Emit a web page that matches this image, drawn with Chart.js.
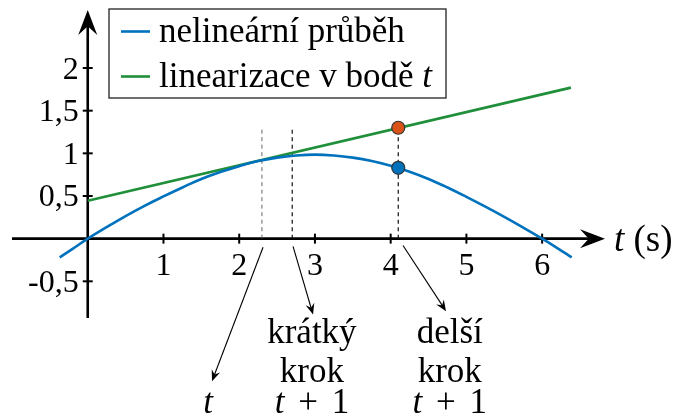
<!DOCTYPE html>
<html><head><meta charset="utf-8">
<script src="https://cdn.jsdelivr.net/npm/chart.js@4/dist/chart.umd.min.js"></script>
<style>html,body{margin:0;padding:0;background:#fff}#wrap{width:677px;height:416px}</style>
</head><body><div id="wrap"><canvas id="c" width="677" height="416"></canvas></div>
<script>
// ---- data ----
const seriesNames = ['nelineární průběh', 'linearizace v bodě '];
const curveT = [-0.37, -0.2, 0, 0.25, 0.5, 0.75, 1, 1.25, 1.5, 1.75, 2, 2.25, 2.5, 2.75, 3, 3.25, 3.5, 3.75, 4, 4.25, 4.5, 4.75, 5, 5.25, 5.5, 5.75, 6, 6.2, 6.39];
const curveY = [-0.22, -0.12, 0, 0.135, 0.265, 0.385, 0.495, 0.60, 0.70, 0.78, 0.85, 0.91, 0.95, 0.975, 0.985, 0.975, 0.95, 0.91, 0.855, 0.785, 0.70, 0.60, 0.49, 0.375, 0.255, 0.13, 0, -0.11, -0.22];
const lineT = [0, 6.38];
const lineY = [0.445, 1.77];
const markT = 4.1;
const markCurveY = 0.83;
const markLineY = 1.30;
const stepT = [2.3, 2.7, 4.1];
const stepTop = [1.31, 1.31, 1.30];
const xTicks = [1, 2, 3, 4, 5, 6];
const xTickLabels = ['1', '2', '3', '4', '5', '6'];
const yTicks = [-0.5, 0.5, 1, 1.5, 2];
const yTickLabels = ['-0,5', '0,5', '1', '1,5', '2'];
// annotation arrows (data units): [fromT, fromY, toT, toY]
const arrowFrom = [[2.315, -0.10], [2.711, -0.09], [4.163, -0.08]];
const arrowTo = [[1.641, -1.67], [2.975, -0.89], [4.731, -0.85]];
// annotation texts
const noteLines = [['', '', 't'], ['krátký', 'krok', 't + 1'], ['delší', 'krok', 't + 1']];
const noteT = [1.59, 2.96, 4.78];
const noteBaseY = [-1.22, -1.68, -2.04];

const BLUE = '#0072BD', GREEN = '#1f8f3a', ORANGE = '#D95319';
const FONT = '"Liberation Serif", "Times New Roman", serif';

function pts(xs, ys) { return xs.map((x, i) => ({ x: x, y: ys[i] })); }

function stealth(ctx, x0, y0, x1, y1, L, W, lw) {
  const dx = x1 - x0, dy = y1 - y0, len = Math.hypot(dx, dy);
  const ux = dx / len, uy = dy / len, nx = -uy, ny = ux;
  ctx.beginPath();
  ctx.lineWidth = lw;
  ctx.moveTo(x0, y0);
  ctx.lineTo(x1 - ux * L * 0.6, y1 - uy * L * 0.6);
  ctx.stroke();
  ctx.beginPath();
  ctx.moveTo(x1, y1);
  ctx.lineTo(x1 - ux * L + nx * W, y1 - uy * L + ny * W);
  ctx.lineTo(x1 - ux * L * 0.65, y1 - uy * L * 0.65);
  ctx.lineTo(x1 - ux * L - nx * W, y1 - uy * L - ny * W);
  ctx.closePath();
  ctx.fill();
}

// parts: [text, italic] or a number (extra gap in px)
function mixedText(ctx, parts, cx, baseline, size, align) {
  const widths = parts.map(p => {
    if (typeof p === 'number') return p;
    ctx.font = (p[1] ? 'italic ' : '') + size + 'px ' + FONT;
    return ctx.measureText(p[0]).width;
  });
  const total = widths.reduce((a, b) => a + b, 0);
  let x = align === 'left' ? cx : cx - total / 2;
  ctx.textAlign = 'left';
  ctx.textBaseline = 'alphabetic';
  parts.forEach((p, i) => {
    if (typeof p !== 'number') {
      ctx.font = (p[1] ? 'italic ' : '') + size + 'px ' + FONT;
      ctx.fillText(p[0], x, baseline);
    }
    x += widths[i];
  });
}

function splitT(s) {
  if (s === 't + 1') return [['t', true], 5, [' + ', false], 5, ['1', false]];
  if (s === 't') return [['t', true]];
  return [[s, false]];
}

const axesPlugin = {
  id: 'axesPlugin',
  beforeDatasetsDraw(chart) {
    const ctx = chart.ctx, xs = chart.scales.x, ys = chart.scales.y, ca = chart.chartArea;
    const x0 = xs.getPixelForValue(0), y0 = ys.getPixelForValue(0);
    ctx.save();
    ctx.strokeStyle = '#000'; ctx.fillStyle = '#000'; ctx.lineCap = 'butt';
    stealth(ctx, ca.left, y0, ca.right, y0, 25, 9.5, 2.6);
    stealth(ctx, x0, ca.bottom, x0, ca.top, 25, 9.5, 2.6);
    ctx.lineWidth = 2;
    xTicks.forEach(v => {
      const p = xs.getPixelForValue(v);
      ctx.beginPath(); ctx.moveTo(p, y0 - 5); ctx.lineTo(p, y0 + 5); ctx.stroke();
    });
    yTicks.forEach(v => {
      const p = ys.getPixelForValue(v);
      ctx.beginPath(); ctx.moveTo(x0 - 5, p); ctx.lineTo(x0 + 5, p); ctx.stroke();
    });
    ctx.font = '32px ' + FONT;
    ctx.textAlign = 'center'; ctx.textBaseline = 'alphabetic';
    xTicks.forEach((v, i) => ctx.fillText(xTickLabels[i], xs.getPixelForValue(v), y0 + 36));
    ctx.textAlign = 'right';
    yTicks.forEach((v, i) => ctx.fillText(yTickLabels[i], x0 - 9, ys.getPixelForValue(v) + 10.5));
    ctx.restore();
  },
  afterDraw(chart) {
    const ctx = chart.ctx, xs = chart.scales.x, ys = chart.scales.y, ca = chart.chartArea;
    const y0 = ys.getPixelForValue(0);
    ctx.save();
    ctx.fillStyle = '#000'; ctx.strokeStyle = '#000';
    mixedText(ctx, [['t', true], [' (s)', false]], ca.right + 9, y0 + 12, 37, 'left');
    arrowFrom.forEach((f, i) => {
      const t = arrowTo[i];
      stealth(ctx, xs.getPixelForValue(f[0]), ys.getPixelForValue(f[1]), xs.getPixelForValue(t[0]), ys.getPixelForValue(t[1]), 11, 4.5, 1.1);
    });
    noteLines.forEach((lines, i) => {
      lines.forEach((s, j) => {
        if (!s) return;
        mixedText(ctx, splitT(s), xs.getPixelForValue(noteT[i]), ys.getPixelForValue(noteBaseY[j]), 35, 'center');
      });
    });
    const bx = 109, by = 9, bw = 337, bh = 89;
    ctx.fillStyle = '#fff';
    ctx.fillRect(bx, by, bw, bh);
    ctx.lineWidth = 1.3; ctx.strokeStyle = '#222';
    ctx.strokeRect(bx, by, bw, bh);
    const colors = [BLUE, GREEN];
    const rows = [31.5, 76.5];
    colors.forEach((c, i) => {
      ctx.strokeStyle = c; ctx.lineWidth = 2.6;
      ctx.beginPath(); ctx.moveTo(121, rows[i]); ctx.lineTo(150, rows[i]); ctx.stroke();
    });
    ctx.fillStyle = '#000';
    mixedText(ctx, [[seriesNames[0], false]], 159, 42, 35, 'left');
    mixedText(ctx, [[seriesNames[1], false], ['t', true]], 159, 87, 35, 'left');
    ctx.restore();
  }
};

const datasets = [
  { label: 'curve point', data: [{ x: markT, y: markCurveY }], showLine: false, pointRadius: 6.5, pointBackgroundColor: BLUE, pointBorderColor: '#333', pointBorderWidth: 1.2, order: 0 },
  { label: 'line point', data: [{ x: markT, y: markLineY }], showLine: false, pointRadius: 6.5, pointBackgroundColor: ORANGE, pointBorderColor: '#333', pointBorderWidth: 1.2, order: 0 },
  { label: seriesNames[0], data: pts(curveT, curveY), showLine: true, borderColor: BLUE, borderWidth: 2.6, pointRadius: 0, tension: 0.4, order: 1 },
  { label: seriesNames[1], data: pts(lineT, lineY), showLine: true, borderColor: GREEN, borderWidth: 2.6, pointRadius: 0, order: 2 }
];
stepT.forEach((t, i) => {
  datasets.push({ label: 'step' + i, data: [{ x: t, y: 0 }, { x: t, y: stepTop[i] }], showLine: true,
    borderColor: i === 0 ? '#555' : '#111', borderWidth: i === 0 ? 0.9 : 1.2, borderDash: [4, 3.5], pointRadius: 0, order: 3 });
});

new Chart(document.getElementById('c'), {
  type: 'scatter',
  data: { datasets: datasets },
  options: {
    responsive: false,
    devicePixelRatio: 1,
    animation: false,
    layout: { padding: { left: 12, right: 72, top: 10, bottom: 98 } },
    plugins: { legend: { display: false }, tooltip: { enabled: false } },
    scales: {
      x: { type: 'linear', min: -1.0, max: 6.83, display: false },
      y: { type: 'linear', min: -0.93, max: 2.68, display: false }
    }
  },
  plugins: [axesPlugin]
});
</script></body></html>
